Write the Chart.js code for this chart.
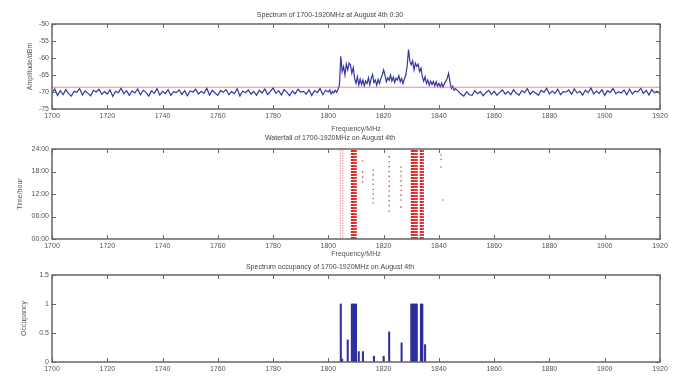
<!DOCTYPE html>
<html>
<head>
<meta charset="utf-8">
<script src="https://cdn.jsdelivr.net/npm/chart.js@4"></script>
<style>
  body { margin: 0; background: #fff; }
  #wrap { position: relative; width: 676px; height: 376px; }
  #wrap canvas { position: absolute; left: 0; top: 0; }
</style>
</head>
<body>
<div id="wrap">
  <canvas id="spec" width="676" height="376"></canvas>
  <canvas id="fall" width="676" height="376"></canvas>
  <canvas id="occ" width="676" height="376"></canvas>
</div>
<script>
// x axis (MHz)
var freqMin = 1700, freqMax = 1920, freqStep = 20;

// spectrum trace, dBm
// 1700..1799 every 1 MHz
var specLow = [
  -70.2,-69.1,-71.0,-69.6,-70.8,-69.3,-70.5,-71.2,-69.8,-70.1,
  -69.0,-70.9,-69.7,-70.4,-71.1,-69.5,-70.0,-69.2,-70.7,-69.9,
  -70.6,-69.4,-71.3,-69.8,-70.2,-68.9,-70.5,-69.6,-71.0,-69.7,
  -70.3,-69.1,-70.8,-69.5,-70.1,-71.2,-69.6,-70.4,-69.0,-70.9,
  -69.8,-70.5,-69.3,-71.0,-69.9,-70.2,-69.4,-70.7,-69.6,-71.1,
  -69.7,-70.0,-69.2,-70.6,-69.8,-70.4,-68.9,-70.9,-69.5,-70.3,
  -71.0,-69.6,-70.1,-69.3,-70.8,-69.9,-70.5,-69.0,-71.2,-69.7,
  -70.2,-69.4,-70.6,-69.8,-71.0,-69.5,-70.3,-69.1,-70.7,-69.9,
  -68.8,-70.4,-69.6,-70.9,-69.3,-70.1,-71.1,-69.7,-70.5,-69.2,
  -70.0,-69.8,-70.6,-69.4,-71.0,-69.6,-70.2,-69.0,-70.8,-69.5
];
// 1800..1846 every 0.5 MHz
var specMid = [
  -70.0,-69.4,-70.6,-69.8,-70.3,-69.5,-70.1,-69.2,-68.0,-59.5,
  -64.0,-62.5,-65.0,-61.8,-63.5,-61.5,-62.0,-64.5,-62.8,-66.0,
  -67.5,-65.5,-68.0,-66.2,-67.8,-66.5,-68.2,-66.8,-67.5,-65.8,
  -67.9,-66.0,-64.8,-67.2,-66.5,-68.0,-66.3,-67.5,-66.0,-65.0,
  -63.5,-65.2,-67.0,-65.8,-66.5,-65.0,-66.8,-65.6,-67.2,-65.9,
  -66.5,-65.2,-67.0,-66.0,-67.5,-66.2,-65.0,-62.5,-57.5,-61.0,
  -62.0,-60.8,-63.5,-61.5,-62.5,-61.8,-64.0,-63.0,-65.5,-66.8,
  -65.5,-67.5,-66.5,-68.0,-66.8,-67.8,-66.9,-68.2,-67.0,-68.3,
  -67.5,-68.5,-67.4,-68.6,-67.5,-66.8,-66.0,-64.5,-67.0,-69.0,
  -68.3,-69.5,-69.0
];
// 1847..1920 every 1 MHz
var specHigh = [
  -69.8,-70.6,-71.2,-69.9,-70.8,-71.0,-69.6,-70.5,-69.9,-71.1,
  -70.2,-69.5,-70.7,-69.8,-71.0,-70.1,-69.4,-70.6,-69.9,-70.8,
  -69.3,-70.4,-70.9,-69.6,-70.2,-69.0,-70.7,-69.8,-70.3,-71.0,
  -69.5,-70.1,-68.9,-70.6,-69.7,-70.4,-69.2,-70.8,-69.9,-70.0,
  -69.4,-70.7,-69.1,-70.3,-69.8,-70.9,-69.5,-70.2,-68.8,-70.6,
  -69.7,-70.4,-69.3,-71.0,-69.6,-70.1,-69.0,-70.5,-69.9,-70.3,
  -69.4,-70.8,-69.2,-70.6,-69.7,-70.0,-68.9,-70.4,-69.5,-70.9,
  -69.3,-70.2,-69.8,-70.5
];
var threshold = -68.6;

// waterfall: occupied columns (MHz), and single hits
var wfThinFreq = [1804.3, 1805.2];
var wfBandFreq = [1808.4, 1808.8, 1809.2, 1809.6, 1810.0,
                  1830.1, 1830.5, 1830.9, 1831.3, 1831.7, 1832.1,
                  1833.3, 1833.8, 1834.3];
var wfDotFreq = [1812.4,1812.4,1812.4,1812.4,
                 1816.2,1816.2,1816.2,1816.2,1816.2,1816.2,1816.2,1816.2,
                 1822.0,1822.0,1822.0,1822.0,1822.0,1822.0,1822.0,1822.0,1822.0,1822.0,1822.0,1822.0,
                 1826.3,1826.3,1826.3,1826.3,1826.3,1826.3,1826.3,1826.3,1826.3,
                 1840.8,1840.8,1840.8,1841.5];
var wfDotTime = [20.8,17.9,16.5,15.2,
                 18.4,17.1,15.8,14.6,13.2,12.0,10.8,9.6,
                 21.9,20.6,19.3,18.0,16.7,15.4,14.1,12.8,11.5,10.2,8.9,7.4,
                 19.2,18.0,16.8,15.5,14.2,13.0,11.7,10.4,8.5,
                 22.4,21.2,19.2,10.4];

// occupancy
var occFreq = [1804.5, 1805, 1807, 1808.5, 1809, 1809.5, 1810, 1811, 1812.5,
               1816.5, 1820, 1822, 1826.5, 1830, 1830.5, 1831, 1831.5, 1832,
               1833.5, 1834, 1835];
var occVal  = [1, 0.05, 0.38, 1, 1, 1, 1, 0.18, 0.18,
               0.1, 0.1, 0.52, 0.33, 1, 1, 1, 1, 1,
               1, 1, 0.3];

Chart.defaults.font.family = "'Liberation Sans', Arial, sans-serif";
Chart.defaults.font.size = 7;
Chart.defaults.color = '#555';
Chart.defaults.animation = false;

// matlab style box with inward ticks
var boxTicks = {
  id: 'boxTicks',
  afterDraw: function (chart) {
    var ctx = chart.ctx, a = chart.chartArea;
    var x = chart.scales.x, y = chart.scales.y;
    ctx.save();
    ctx.strokeStyle = '#666';
    ctx.lineWidth = 1;
    ctx.beginPath();
    x.ticks.forEach(function (t) {
      var px = Math.round(x.getPixelForValue(t.value)) + 0.5;
      ctx.moveTo(px, a.bottom); ctx.lineTo(px, a.bottom - 4);
      ctx.moveTo(px, a.top); ctx.lineTo(px, a.top + 4);
    });
    y.ticks.forEach(function (t) {
      var py = Math.round(y.getPixelForValue(t.value)) + 0.5;
      ctx.moveTo(a.left, py); ctx.lineTo(a.left + 4, py);
      ctx.moveTo(a.right, py); ctx.lineTo(a.right - 4, py);
    });
    ctx.stroke();
    ctx.lineWidth = 1.5;
    ctx.strokeRect(a.left, a.top, a.right - a.left, a.bottom - a.top);
    ctx.restore();
  }
};

var noGrid = { display: false, drawTicks: false, tickLength: 0, offset: false };

function xScale(h, withTitle) {
  return {
    type: 'linear', min: freqMin, max: freqMax, offset: false,
    grid: noGrid, border: { display: false },
    ticks: { stepSize: freqStep, autoSkip: false, maxRotation: 0, padding: 3,
             callback: function (v) { return String(v); } },
    title: { display: withTitle, text: 'Frequency/MHz', padding: { top: 0, bottom: 0 } },
    afterFit: function (s) { s.height = h; }
  };
}

function yScale(min, max, step, label, pad, cb) {
  return {
    min: min, max: max,
    grid: noGrid, border: { display: false },
    ticks: { stepSize: step, padding: 3, callback: cb || function (v) { return String(v); } },
    title: { display: true, text: label, padding: { top: pad, bottom: 0 } },
    afterFit: function (s) { s.width = 52; }
  };
}

function titleOpt(text, top, bottom) {
  return { display: true, text: text, font: { size: 7, weight: 'normal' }, color: '#444',
           padding: { top: top, bottom: bottom } };
}

// ---- spectrum ----
var specPts = [];
specLow.forEach(function (v, i) { specPts.push({ x: 1700 + i, y: v }); });
specMid.forEach(function (v, i) { specPts.push({ x: 1800 + i * 0.5, y: v }); });
specHigh.forEach(function (v, i) { specPts.push({ x: 1847 + i, y: v }); });

new Chart(document.getElementById('spec'), {
  type: 'scatter',
  data: {
    datasets: [
      { data: [{ x: freqMin, y: threshold }, { x: freqMax, y: threshold }],
        showLine: true, pointRadius: 0, borderColor: 'rgba(230,90,110,0.7)', borderWidth: 1 },
      { data: specPts, showLine: true, pointRadius: 0, borderColor: '#3434a6', borderWidth: 1.2 }
    ]
  },
  options: {
    responsive: false,
    layout: { padding: { top: 10.8, left: 0, right: 16, bottom: 243 } },
    plugins: { legend: { display: false }, tooltip: { enabled: false },
               title: titleOpt('Spectrum of 1700-1920MHz at August 4th 0:30', 0, 4.8) },
    scales: { x: xScale(24, true), y: yScale(-75, -50, 5, 'Amplitude/dBm', 26) }
  },
  plugins: [boxTicks]
});

// ---- waterfall ----
function column(f) { return [{ x: f, y: 0 }, { x: f, y: 24 }]; }
var fallSets = [];
wfThinFreq.forEach(function (f) {
  fallSets.push({ data: column(f), showLine: true, pointRadius: 0,
                  borderColor: 'rgba(225,60,60,0.6)', borderWidth: 1, borderDash: [1.5, 1] });
});
wfBandFreq.forEach(function (f) {
  fallSets.push({ data: column(f), showLine: true, pointRadius: 0,
                  borderColor: '#d92b2b', borderWidth: 1.5, borderDash: [2, 1] });
});
fallSets.push({
  data: wfDotFreq.map(function (f, i) { return { x: f, y: wfDotTime[i] }; }),
  pointRadius: 0.8, pointBorderWidth: 0, backgroundColor: '#d94040'
});

new Chart(document.getElementById('fall'), {
  type: 'scatter',
  data: { datasets: fallSets },
  options: {
    responsive: false,
    layout: { padding: { top: 130, left: 0, right: 16, bottom: 118 } },
    plugins: { legend: { display: false }, tooltip: { enabled: false },
               title: titleOpt('Waterfall of 1700-1920MHz on August 4th', 3.8, 6.8) },
    scales: {
      x: xScale(19, true),
      y: yScale(0, 24, 6, 'Time/hour', 16, function (v) {
        return (v < 10 ? '0' : '') + v + ':00';
      })
    }
  },
  plugins: [boxTicks]
});

// ---- occupancy ----
new Chart(document.getElementById('occ'), {
  type: 'bar',
  data: {
    datasets: [{
      data: occFreq.map(function (f, i) { return { x: f, y: occVal[i] }; }),
      backgroundColor: '#2e2e9c', borderWidth: 0,
      barPercentage: 1, categoryPercentage: 1
    }]
  },
  options: {
    responsive: false,
    layout: { padding: { top: 259, left: 0, right: 16, bottom: 0 } },
    plugins: { legend: { display: false }, tooltip: { enabled: false },
               title: titleOpt('Spectrum occupancy of 1700-1920MHz on August 4th', 3.8, 3.8) },
    scales: { x: xScale(14, false), y: yScale(0, 1.5, 0.5, 'Occupancy', 20) }
  },
  plugins: [boxTicks]
});
</script>
</body>
</html>
